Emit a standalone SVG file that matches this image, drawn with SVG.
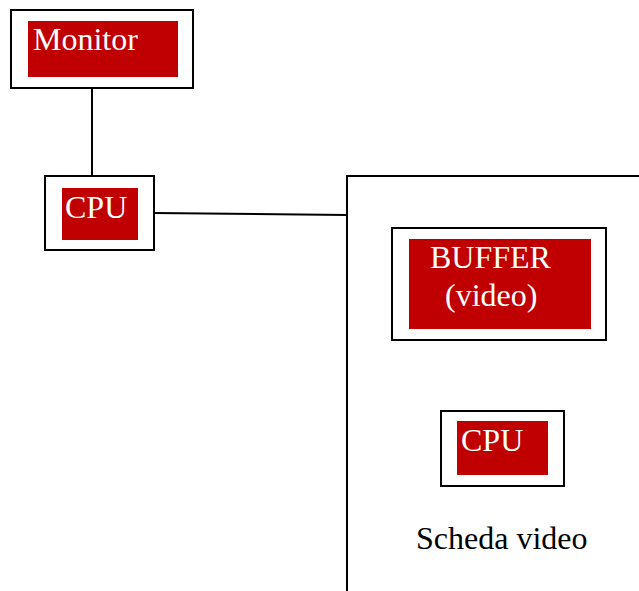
<svg xmlns="http://www.w3.org/2000/svg" width="639" height="591" viewBox="0 0 639 591">
<style>
.frame{fill:#fff;stroke:#000;stroke-width:2}
.red{fill:#c00000}
.lbl{font-family:"Liberation Serif","Times New Roman",serif;font-size:32px;fill:#fff}
.blk{font-family:"Liberation Serif","Times New Roman",serif;font-size:32px;fill:#000}
.conn{stroke:#000;stroke-width:2;fill:none}
</style>
<rect width="639" height="591" fill="#fff"/>
<g id="connectors">
<line class="conn" x1="92" y1="88" x2="92" y2="176"/>
<line class="conn" x1="154" y1="213" x2="347" y2="215"/>
</g>
<g id="scheda-video">
<path class="conn" d="M347,591 V176 H639"/>
<text class="blk" x="416" y="549">Scheda video</text>
</g>
<g id="monitor">
<rect class="frame" x="11" y="10" width="182" height="78"/>
<rect class="red" x="28" y="21" width="150" height="56"/>
<text class="lbl" x="33" y="50">Monitor</text>
</g>
<g id="cpu">
<rect class="frame" x="45" y="176" width="109" height="74"/>
<rect class="red" x="62" y="188" width="76" height="52"/>
<text class="lbl" x="65" y="218">CPU</text>
</g>
<g id="buffer">
<rect class="frame" x="392" y="228" width="214" height="112"/>
<rect class="red" x="409" y="239" width="182" height="90"/>
<text class="lbl" x="430" y="268">BUFFER</text>
<text class="lbl" x="445" y="306">(video)</text>
</g>
<g id="cpu-video">
<rect class="frame" x="441" y="411" width="123" height="75"/>
<rect class="red" x="457" y="421" width="91" height="54"/>
<text class="lbl" x="461" y="451">CPU</text>
</g>
</svg>
